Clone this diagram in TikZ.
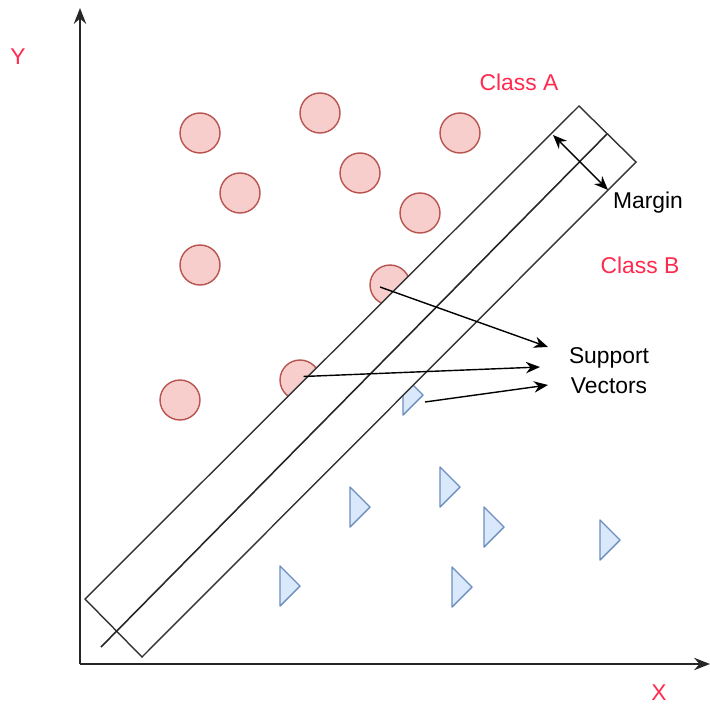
\documentclass[tikz,border=0pt]{standalone}
\usepackage{fontspec}
\setmainfont{Liberation Sans}
\usepackage{tikz}
\usetikzlibrary{arrows.meta, positioning}

\definecolor{ptred}{HTML}{FF2A4D}
\definecolor{afill}{HTML}{F8CECC}
\definecolor{aline}{HTML}{B85450}
\definecolor{bfill}{HTML}{DAE8FC}
\definecolor{bline}{HTML}{6C8EBF}

\begin{document}
\begin{tikzpicture}[x=0.02cm, y=-0.02cm, >=Stealth,
      classa/.style={circle, draw=aline, fill=afill, line width=0.8pt,
                     minimum size=0.8cm, inner sep=0pt},
      classb/.style={draw=bline, fill=bfill, line width=0.8pt, line join=round},
      lbl/.style={font=\fontsize{13}{17}\selectfont, inner sep=1pt, align=center},
      redlbl/.style={lbl, text=ptred},
      band/.style={draw=black!80, line width=0.8pt, fill=white},
      conn/.style={draw, ->, line width=0.8pt, >={Stealth[length=8pt, width=6.5pt]}}]

    \useasboundingbox (0,0) rectangle (710,706);

    % --- Class A points (circles) ---
    \node[classa] (a1)  at (200,133) {};
    \node[classa] (a2)  at (320,113) {};
    \node[classa] (a3)  at (460,133) {};
    \node[classa] (a4)  at (240,193) {};
    \node[classa] (a5)  at (360,173) {};
    \node[classa] (a6)  at (420,213) {};
    \node[classa] (a7)  at (200,265) {};
    \node[classa] (a8)  at (390,285) {};
    \node[classa] (a9)  at (300,380) {};
    \node[classa] (a10) at (180,400) {};

    % --- Class B points (triangles, left edge top corner) ---
    \foreach \x/\y in {403/375, 350/487, 440/467, 484/507, 600/520, 452/567, 280/566}
      \draw[classb] (\x,\y) -- ++(20,20) -- ++(-20,20) -- cycle;

    % ======= separating band (covers the points it overlaps) =======
    \draw[band] (579,106) -- (636,162) -- (142,657) -- (85,599) -- cycle;
    \coordinate (htop) at (607,134);
    \coordinate (hbot) at (101,647);
    \draw[line width=0.9pt, black!85] (htop) -- (hbot);

    % margin width
    \coordinate (mleft)  at (553,135);
    \coordinate (mright) at (608,190);
    \draw[conn, <->] (mleft) -- (mright);

    % --- labels ---
    \node[redlbl] (ylbl)    at (18,57)   {Y};
    \node[redlbl] (xlbl)    at (659,693) {X};
    \node[redlbl] (clsa)    at (519,82)  {Class A};
    \node[redlbl] (clsb)    at (640,265) {Class B};
    \node[lbl]    (margin)  at (648,203) {Margin};
    \node[lbl]    (support) at (609,371) {Support\\Vectors};

    % ======= support vector pointers =======
    \coordinate (sv1) at (548,347);
    \coordinate (sv2) at (540,367);
    \coordinate (sv3) at (548,385);
    \draw[conn] (380,287) -- (sv1);
    \draw[conn] ([xshift=2pt, yshift=2pt]a9.center) -- (sv2);
    \draw[conn] (425,402) -- (sv3);

    % ======= axes =======
    \coordinate (origin) at (80,664);
    \coordinate (ytip)   at (80,8);
    \coordinate (xtip)   at (710,664);
    \draw[->, line width=1.2pt, black!85, >={Stealth[length=9pt, width=7pt]}] (origin) -- (ytip);
    \draw[->, line width=1.2pt, black!85, >={Stealth[length=9pt, width=7pt]}] (origin) -- (xtip);

\end{tikzpicture}
\end{document}
